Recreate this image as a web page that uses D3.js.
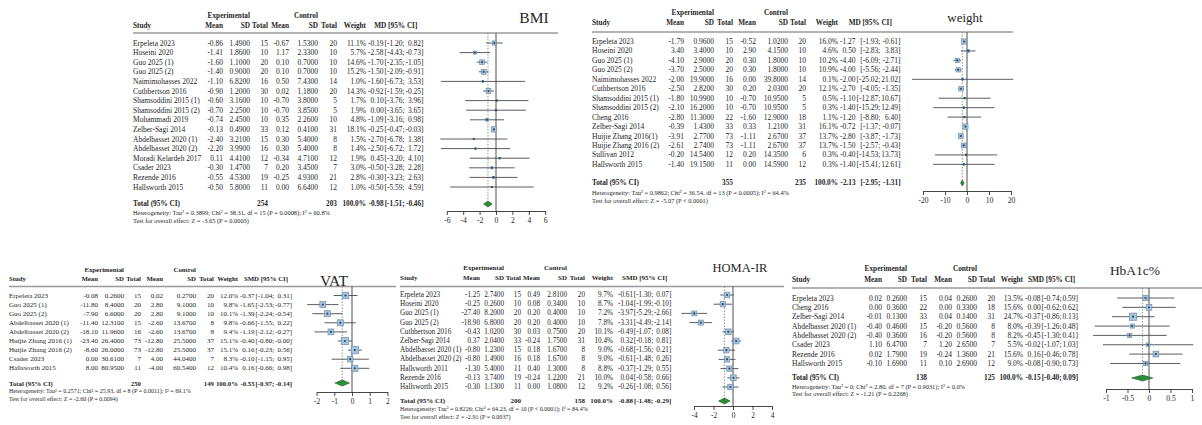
<!DOCTYPE html>
<html>
<head>
<meta charset="utf-8">
<script src="https://cdn.jsdelivr.net/npm/d3@7/dist/d3.min.js"></script>
<style>
  html, body { margin: 0; padding: 0; background: #ffffff; }
  svg { display: block; }
  text { font-family: "Liberation Serif", "Times New Roman", Times, serif; fill: #262626; }
</style>
</head>
<body>
<svg id="chart" width="1202" height="425"></svg>
<script>
// ---------------- BMI (mean difference) ----------------
const bmiStudies = ["Erpeleta 2023", "Hoseini 2020", "Guo 2025 (1)", "Guo 2025 (2)", "Naimimohasses 2022",
  "Cuthbertson 2016", "Shamsoddini 2015 (1)", "Shamsoddini 2015 (2)", "Mohammadi 2019", "Zelber-Sagi 2014",
  "Abdelbasset 2020 (1)", "Abdelbasset 2020 (2)", "Moradi Kelardeh 2017", "Csader 2023", "Rezende 2016", "Hallsworth 2015"];
const bmiExp = [[-0.86, 1.49, 15], [-1.41, 1.86, 10], [-1.60, 1.10, 20], [-1.40, 0.90, 20], [-1.10, 6.82, 16],
  [-0.90, 1.20, 30], [-0.60, 3.16, 10], [-0.70, 2.25, 10], [-0.74, 2.45, 10], [-0.13, 0.49, 33],
  [-2.40, 3.21, 15], [-2.20, 3.99, 16], [0.11, 4.41, 12], [-0.30, 1.47, 7], [-0.55, 4.53, 19], [-0.50, 5.80, 11]];
const bmiCtl = [[-0.67, 1.53, 20], [1.17, 2.33, 10], [0.10, 0.70, 10], [0.10, 0.70, 10], [0.50, 7.43, 14],
  [0.02, 1.18, 20], [-0.70, 3.80, 5], [-0.70, 3.85, 5], [0.35, 2.26, 10], [0.12, 0.41, 31],
  [0.30, 5.40, 8], [0.30, 5.40, 8], [-0.34, 4.71, 12], [0.20, 3.45, 7], [-0.25, 4.93, 21], [0.00, 6.64, 12]];
const bmiWeight = [11.1, 5.7, 14.6, 15.2, 1.0, 14.3, 1.7, 1.9, 4.8, 18.1, 1.5, 1.4, 1.9, 3.0, 2.8, 1.0];
const bmiEffect = [[-0.19, -1.20, 0.82], [-2.58, -4.43, -0.73], [-1.70, -2.35, -1.05], [-1.50, -2.09, -0.91],
  [-1.60, -6.73, 3.53], [-0.92, -1.59, -0.25], [0.10, -3.76, 3.96], [0.00, -3.65, 3.65], [-1.09, -3.16, 0.98],
  [-0.25, -0.47, -0.03], [-2.70, -6.78, 1.38], [-2.50, -6.72, 1.72], [0.45, -3.20, 4.10], [-0.50, -3.28, 2.28],
  [-0.30, -3.23, 2.63], [-0.50, -5.59, 4.59]];
const bmiTotals = [254, 203];
const bmiPooled = [-0.98, -1.51, -0.46];
const bmiHet = "Heterogeneity: Tau² = 0.3899; Chi² = 38.31, df = 15 (P = 0.0008); I² = 60.8%";
const bmiTest = "Test for overall effect: Z = -3.65 (P = 0.0003)";
const bmiTicks = [-6, -4, -2, 0, 2, 4, 6];

// ---------------- Body weight (mean difference) ----------------
const wtStudies = ["Erpeleta 2023", "Hoseini 2020", "Guo 2025 (1)", "Guo 2025 (2)", "Naimimohasses 2022",
  "Cuthbertson 2016", "Shamsoddini 2015 (1)", "Shamsoddini 2015 (2)", "Cheng 2016", "Zelber-Sagi 2014",
  "Huijie Zhang 2016(1)", "Huijie Zhang 2016 (2)", "Sullivan 2012", "Hallsworth 2015"];
const wtExp = [[-1.79, 0.96, 15], [3.40, 3.40, 10], [-4.10, 2.90, 20], [-3.70, 2.50, 20], [-2.00, 19.90, 16],
  [-2.50, 2.82, 30], [-1.80, 10.99, 10], [-2.10, 16.20, 10], [-2.80, 11.30, 22], [-0.39, 1.43, 33],
  [-3.91, 2.77, 73], [-2.61, 2.74, 73], [-0.20, 14.54, 12], [-1.40, 19.15, 11]];
const wtCtl = [[-0.52, 1.02, 20], [2.90, 4.15, 10], [0.30, 1.80, 10], [0.30, 1.80, 10], [0.00, 39.80, 14],
  [0.20, 2.03, 20], [-0.70, 10.95, 5], [-0.70, 10.95, 5], [-1.60, 12.90, 18], [0.33, 1.21, 31],
  [-1.11, 2.67, 37], [-1.11, 2.67, 37], [0.20, 14.35, 6], [0.00, 14.59, 12]];
const wtWeight = [16.0, 4.6, 10.2, 10.9, 0.1, 12.1, 0.5, 0.3, 1.1, 16.1, 13.7, 13.7, 0.3, 0.3];
const wtEffect = [[-1.27, -1.93, -0.61], [0.50, -2.83, 3.83], [-4.40, -6.09, -2.71], [-4.00, -5.56, -2.44],
  [-2.00, -25.02, 21.02], [-2.70, -4.05, -1.35], [-1.10, -12.87, 10.67], [-1.40, -15.29, 12.49],
  [-1.20, -8.80, 6.40], [-0.72, -1.37, -0.07], [-2.80, -3.87, -1.73], [-1.50, -2.57, -0.43],
  [-0.40, -14.53, 13.73], [-1.40, -15.41, 12.61]];
const wtTotals = [355, 235];
const wtPooled = [-2.13, -2.95, -1.31];
const wtHet = "Heterogeneity: Tau² = 0.9862; Chi² = 36.54, df = 13 (P = 0.0005); I² = 64.4%";
const wtTest = "Test for overall effect: Z = -5.07 (P < 0.0001)";
const wtTicks = [-20, -10, 0, 10, 20];

// ---------------- VAT (standardised mean difference) ----------------
const vatStudies = ["Erpeleta 2023", "Guo 2025 (1)", "Guo 2025 (2)", "Abdelbasset 2020 (1)", "Abdelbasset 2020 (2)",
  "Huijie Zhang 2016 (1)", "Huijie Zhang 2016 (2)", "Csader 2023", "Hallsworth 2015"];
const vatExp = [[-0.08, 0.26, 15], [-11.80, 8.40, 20], [-7.90, 6.60, 20], [-11.40, 12.31, 15], [-18.10, 11.96, 16],
  [-23.40, 26.40, 73], [-8.60, 26.00, 73], [0.00, 30.61, 7], [8.00, 80.95, 11]];
const vatCtl = [[0.02, 0.27, 20], [2.80, 9.10, 10], [2.80, 9.10, 10], [-2.60, 13.67, 8], [-2.60, 13.67, 8],
  [-12.80, 25.50, 37], [-12.80, 25.50, 37], [4.00, 44.04, 7], [-4.00, 60.54, 12]];
const vatWeight = [12.0, 9.8, 10.1, 9.8, 9.4, 15.1, 15.1, 8.3, 10.4];
const vatEffect = [[-0.37, -1.04, 0.31], [-1.65, -2.53, -0.77], [-1.39, -2.24, -0.54], [-0.66, -1.55, 0.22],
  [-1.19, -2.12, -0.27], [-0.40, -0.80, -0.00], [0.16, -0.23, 0.56], [-0.10, -1.15, 0.95], [0.16, -0.66, 0.98]];
const vatTotals = [250, 149];
const vatPooled = [-0.55, -0.97, -0.14];
const vatHet = "Heterogeneity: Tau² = 0.2571; Chi² = 25.93, df = 8 (P = 0.0011); I² = 69.1%";
const vatTest = "Test for overall effect: Z = -2.60 (P = 0.0094)";
const vatTicks = [-2, -1, 0, 1, 2];

// ---------------- HOMA-IR (standardised mean difference) ----------------
const homaStudies = ["Erpeleta 2023", "Hoseini 2020", "Guo 2025 (1)", "Guo 2025 (2)", "Cuthbertson 2016",
  "Zelber-Sagi 2014", "Abdelbasset 2020 (1)", "Abdelbasset 2020 (2)", "Hallsworth 2011", "Rezende 2016", "Hallsworth 2015"];
const homaExp = [[-1.25, 2.74, 15], [-0.25, 0.26, 10], [-27.40, 8.20, 20], [-18.90, 6.80, 20], [-0.43, 1.02, 30],
  [0.37, 2.04, 33], [-0.80, 1.23, 15], [-0.80, 1.49, 16], [-1.30, 5.40, 11], [-0.13, 3.74, 19], [-0.30, 1.13, 11]];
const homaCtl = [[0.49, 2.81, 20], [0.08, 0.34, 10], [0.20, 0.40, 10], [0.20, 0.40, 10], [0.03, 0.75, 20],
  [-0.24, 1.75, 31], [0.18, 1.67, 8], [0.18, 1.67, 8], [0.40, 1.30, 8], [-0.24, 1.22, 21], [0.00, 1.08, 12]];
const homaWeight = [9.7, 8.7, 7.2, 7.8, 10.1, 10.4, 9.0, 9.0, 8.8, 10.0, 9.2];
const homaEffect = [[-0.61, -1.30, 0.07], [-1.04, -1.99, -0.10], [-3.97, -5.29, -2.66], [-3.31, -4.49, -2.14],
  [-0.49, -1.07, 0.08], [0.32, -0.18, 0.81], [-0.68, -1.56, 0.21], [-0.61, -1.48, 0.26], [-0.37, -1.29, 0.55],
  [0.04, -0.58, 0.66], [-0.26, -1.08, 0.56]];
const homaTotals = [200, 158];
const homaPooled = [-0.88, -1.48, -0.29];
const homaHet = "Heterogeneity: Tau² = 0.8226; Chi² = 64.23, df = 10 (P < 0.0001); I² = 84.4%";
const homaTest = "Test for overall effect: Z = -2.91 (P = 0.0037)";
const homaTicks = [-4, -2, 0, 2, 4];

// ---------------- HbA1c% (standardised mean difference) ----------------
const hbaStudies = ["Erpeleta 2023", "Cheng 2016", "Zelber-Sagi 2014", "Abdelbasset 2020 (1)", "Abdelbasset 2020 (2)",
  "Csader 2023", "Rezende 2016", "Hallsworth 2015"];
const hbaExp = [[0.02, 0.26, 15], [0.00, 0.36, 22], [-0.01, 0.13, 33], [-0.40, 0.46, 15], [-0.40, 0.36, 16],
  [1.10, 6.47, 7], [0.02, 1.79, 19], [-0.10, 1.69, 11]];
const hbaCtl = [[0.04, 0.26, 20], [0.00, 0.33, 18], [0.04, 0.14, 31], [-0.20, 0.56, 8], [-0.20, 0.56, 8],
  [1.20, 2.65, 7], [-0.24, 1.36, 21], [0.10, 2.69, 12]];
const hbaWeight = [13.5, 15.6, 24.7, 8.0, 8.2, 5.5, 15.6, 9.0];
const hbaEffect = [[-0.08, -0.74, 0.59], [0.00, -0.62, 0.62], [-0.37, -0.86, 0.13], [-0.39, -1.26, 0.48],
  [-0.45, -1.30, 0.41], [-0.02, -1.07, 1.03], [0.16, -0.46, 0.78], [-0.08, -0.90, 0.73]];
const hbaTotals = [138, 125];
const hbaPooled = [-0.15, -0.40, 0.09];
const hbaHet = "Heterogeneity: Tau² = 0; Chi² = 2.80, df = 7 (P = 0.9031); I² = 0.0%";
const hbaTest = "Test for overall effect: Z = -1.21 (P = 0.2268)";
const hbaTicks = [-1, -0.5, 0, 0.5, 1];

// ---------------- drawing ----------------
const svg = d3.select("#chart");
const meter = svg.append("text").attr("visibility", "hidden");
function textWidth(str, size, bold) {
  meter.attr("font-size", size).attr("font-weight", bold ? "bold" : "normal").text(str);
  return meter.node().getComputedTextLength();
}
// keeps the sign on values such as -0.00
function signed(v, d) {
  const s = Math.abs(v).toFixed(d);
  return (v < 0 || Object.is(v, -0)) ? "-" + s : s;
}

const SQUARE_FILL = "#a9c5dc", SQUARE_EDGE = "#6a8fb1", DOT = "#2b4a6b";
const DIAMOND_FILL = "#2f8a3a", DIAMOND_EDGE = "#1d6427";

function drawForest(title, measure, d, L) {
  const g = svg.append("g");
  const fs = L.fontSize;
  const c = L.cols;
  const x = d3.scaleLinear().domain([d.ticks[0], d.ticks[d.ticks.length - 1]]).range(L.xRange);
  const rowY = i => L.row0 + i * L.step;

  const put = (px, py, str, anchor, opt = {}) => g.append("text")
    .attr("x", px).attr("y", py)
    .attr("text-anchor", anchor)
    .attr("dominant-baseline", "central")
    .attr("font-size", opt.size || fs)
    .attr("font-weight", opt.bold ? "bold" : null)
    .text(str);

  // effect-size column: estimate, lower and upper parts each right-aligned
  const all = d.effects.concat([d.pooled]);
  const sp = textWidth(" ", fs, false) + 0.8;
  const estR = c.ci + d3.max(all, e => textWidth(signed(e[0], 2), fs, false));
  const loR = estR + sp + d3.max(all, e => textWidth("[" + signed(e[1], 2) + ";", fs, false));
  const hiR = loR + sp + d3.max(all, e => textWidth(signed(e[2], 2) + "]", fs, false));

  // headers
  const hs = fs * 0.97;
  put(c.expSD, L.groupY, "Experimental", "end", { bold: true, size: hs });
  put(c.ctlSD, L.groupY, "Control", "end", { bold: true, size: hs });
  put(L.studyX, L.headY, "Study", "start", { bold: true, size: hs });
  [["Mean", c.expMean], ["SD", c.expSD], ["Total", c.expN], ["Mean", c.ctlMean], ["SD", c.ctlSD],
   ["Total", c.ctlN], ["Weight", c.weight]].forEach(([t, px]) => put(px, L.headY, t, "end", { bold: true, size: hs }));
  put((c.ci + hiR) / 2, L.headY, measure + " [95% CI]", "middle", { bold: true, size: hs });

  // header rule spanning table and plot
  g.append("line")
    .attr("x1", L.studyX).attr("x2", L.lineEnd)
    .attr("y1", L.lineY).attr("y2", L.lineY)
    .attr("stroke", "#9a9a9a").attr("stroke-width", 1.6);

  // study rows
  d.studies.forEach((s, i) => {
    const yy = rowY(i);
    put(L.studyX, yy, s, "start");
    put(c.expMean, yy, signed(d.exp[i][0], 2), "end");
    put(c.expSD, yy, d.exp[i][1].toFixed(4), "end");
    put(c.expN, yy, d.exp[i][2], "end");
    put(c.ctlMean, yy, signed(d.ctl[i][0], 2), "end");
    put(c.ctlSD, yy, d.ctl[i][1].toFixed(4), "end");
    put(c.ctlN, yy, d.ctl[i][2], "end");
    put(c.weight, yy, d.weights[i].toFixed(1) + "%", "end");
    put(estR, yy, signed(d.effects[i][0], 2), "end");
    put(loR, yy, "[" + signed(d.effects[i][1], 2) + ";", "end");
    put(hiR, yy, signed(d.effects[i][2], 2) + "]", "end");
  });

  // pooled row and footnotes
  const ts = fs * 0.97;
  put(L.studyX, L.totalY, "Total (95% CI)", "start", { bold: true, size: ts });
  put(c.expN, L.totalY, d.totals[0], "end", { bold: true, size: ts });
  put(c.ctlN, L.totalY, d.totals[1], "end", { bold: true, size: ts });
  put(c.weight, L.totalY, "100.0%", "end", { bold: true, size: ts });
  put(estR, L.totalY, signed(d.pooled[0], 2), "end", { bold: true, size: ts });
  put(loR, L.totalY, "[" + signed(d.pooled[1], 2) + ";", "end", { bold: true, size: ts });
  put(hiR, L.totalY, signed(d.pooled[2], 2) + "]", "end", { bold: true, size: ts });
  put(L.studyX, L.hetY, d.het, "start", { size: L.noteSize });
  put(L.studyX, L.testY, d.test, "start", { size: L.noteSize });

  // reference lines
  g.append("line")
    .attr("x1", x(0)).attr("x2", x(0)).attr("y1", L.lineY).attr("y2", L.axisY)
    .attr("stroke", "#3a3a3a").attr("stroke-width", 0.9);
  g.append("line")
    .attr("x1", x(d.pooled[0])).attr("x2", x(d.pooled[0])).attr("y1", L.lineY).attr("y2", L.totalY)
    .attr("stroke", "#7a7a7a").attr("stroke-width", 0.8).attr("stroke-dasharray", "1.5,1.5");

  // confidence intervals
  g.selectAll(null).data(d.effects).join("line")
    .attr("x1", e => x(e[1])).attr("x2", e => x(e[2]))
    .attr("y1", (e, i) => rowY(i)).attr("y2", (e, i) => rowY(i))
    .attr("stroke", "#4a4a4a").attr("stroke-width", 0.9);

  // weight-scaled squares
  const side = w => Math.max(1.5, L.box * Math.sqrt(w));
  g.selectAll(null).data(d.effects).join("rect")
    .attr("x", (e, i) => x(e[0]) - side(d.weights[i]) / 2)
    .attr("y", (e, i) => rowY(i) - side(d.weights[i]) / 2)
    .attr("width", (e, i) => side(d.weights[i]))
    .attr("height", (e, i) => side(d.weights[i]))
    .attr("fill", SQUARE_FILL).attr("stroke", SQUARE_EDGE).attr("stroke-width", 0.7);
  g.selectAll(null).data(d.effects).join("circle")
    .attr("cx", e => x(e[0])).attr("cy", (e, i) => rowY(i)).attr("r", 1.1)
    .attr("fill", DOT);

  // pooled diamond
  const [pe, pl, ph] = d.pooled;
  g.append("path")
    .attr("d", `M${x(pl)},${L.totalY}L${x(pe)},${L.totalY - 3}L${x(ph)},${L.totalY}L${x(pe)},${L.totalY + 3}Z`)
    .attr("fill", DIAMOND_FILL).attr("stroke", DIAMOND_EDGE).attr("stroke-width", 0.6);

  // bottom axis
  const ax = g.append("g")
    .attr("transform", `translate(0,${L.axisY})`)
    .call(d3.axisBottom(x).tickValues(d.ticks).tickSize(4).tickSizeOuter(0).tickPadding(3).tickFormat(v => String(v)));
  ax.selectAll("text").attr("font-size", L.tickSize);
  ax.selectAll("line, path").attr("stroke", "#333").attr("stroke-width", 0.9);

  // panel title
  put(L.titleX, L.titleY, title, "middle", { size: L.titleSize });
}

drawForest("BMI", "MD",
  { studies: bmiStudies, exp: bmiExp, ctl: bmiCtl, weights: bmiWeight, effects: bmiEffect,
    totals: bmiTotals, pooled: bmiPooled, het: bmiHet, test: bmiTest, ticks: bmiTicks },
  { studyX: 133, fontSize: 7.5, noteSize: 6.4, tickSize: 7.6,
    cols: { expMean: 223, expSD: 250, expN: 268, ctlMean: 289, ctlSD: 318, ctlN: 337, weight: 366, ci: 368 },
    groupY: 16, headY: 25.5, lineY: 33, lineEnd: 558, row0: 43, step: 9.6,
    totalY: 204, hetY: 212.5, testY: 220.5, axisY: 211, xRange: [446.8, 545.2], box: 1.25,
    titleX: 534, titleY: 17, titleSize: 15.5 });

drawForest("weight", "MD",
  { studies: wtStudies, exp: wtExp, ctl: wtCtl, weights: wtWeight, effects: wtEffect,
    totals: wtTotals, pooled: wtPooled, het: wtHet, test: wtTest, ticks: wtTicks },
  { studyX: 592, fontSize: 7.5, noteSize: 6.4, tickSize: 7.6,
    cols: { expMean: 684, expSD: 714, expN: 733, ctlMean: 756, ctlSD: 788, ctlN: 806, weight: 838, ci: 840 },
    groupY: 13, headY: 22.5, lineY: 32, lineEnd: 1013, row0: 41.5, step: 9.45,
    totalY: 183, hetY: 192, testY: 200, axisY: 191, xRange: [923, 1011], box: 1.3,
    titleX: 965, titleY: 17, titleSize: 13 });

drawForest("VAT", "SMD",
  { studies: vatStudies, exp: vatExp, ctl: vatCtl, weights: vatWeight, effects: vatEffect,
    totals: vatTotals, pooled: vatPooled, het: vatHet, test: vatTest, ticks: vatTicks },
  { studyX: 9, fontSize: 7.0, noteSize: 6.0, tickSize: 7.4,
    cols: { expMean: 98, expSD: 124, expN: 141, ctlMean: 163, ctlSD: 196, ctlN: 214, weight: 238, ci: 240 },
    groupY: 269, headY: 278, lineY: 286.5, lineEnd: 396, row0: 295.5, step: 9.1,
    totalY: 383, hetY: 391, testY: 398.5, axisY: 392, xRange: [316.6, 387.4], box: 1.9,
    titleX: 334, titleY: 280, titleSize: 15.5 });

drawForest("HOMA-IR", "SMD",
  { studies: homaStudies, exp: homaExp, ctl: homaCtl, weights: homaWeight, effects: homaEffect,
    totals: homaTotals, pooled: homaPooled, het: homaHet, test: homaTest, ticks: homaTicks },
  { studyX: 400, fontSize: 7.2, noteSize: 6.1, tickSize: 7.4,
    cols: { expMean: 480, expSD: 504, expN: 521, ctlMean: 540, ctlSD: 567, ctlN: 585, weight: 613, ci: 618 },
    groupY: 268, headY: 278, lineY: 286.5, lineEnd: 784, row0: 295, step: 9.2,
    totalY: 401, hetY: 409, testY: 416.5, axisY: 406, xRange: [694, 772], box: 1.8,
    titleX: 740, titleY: 268, titleSize: 12.5 });

drawForest("HbA1c%", "SMD",
  { studies: hbaStudies, exp: hbaExp, ctl: hbaCtl, weights: hbaWeight, effects: hbaEffect,
    totals: hbaTotals, pooled: hbaPooled, het: hbaHet, test: hbaTest, ticks: hbaTicks },
  { studyX: 792, fontSize: 7.5, noteSize: 6.4, tickSize: 7.6,
    cols: { expMean: 882, expSD: 907, expN: 927, ctlMean: 952, ctlSD: 977, ctlN: 995, weight: 1023, ci: 1025 },
    groupY: 269, headY: 280, lineY: 288, lineEnd: 1202, row0: 298, step: 9.35,
    totalY: 378, hetY: 386, testY: 393.5, axisY: 389, xRange: [1106, 1192], box: 1.45,
    titleX: 1135, titleY: 270, titleSize: 13.5 });

meter.remove();
</script>
</body>
</html>
